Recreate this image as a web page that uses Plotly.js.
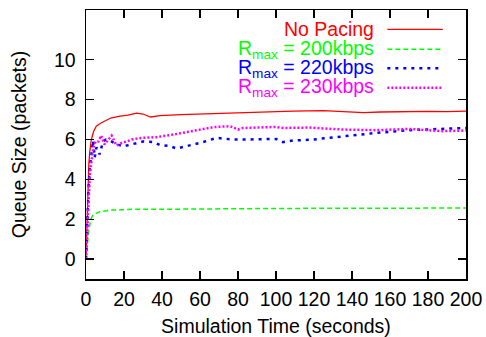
<!DOCTYPE html>
<html>
<head>
<meta charset="utf-8">
<script src="https://cdn.plot.ly/plotly-3.0.1.min.js"></script>
<style>html,body{margin:0;padding:0;background:#fff;}#chart{width:486px;height:337px;}</style>
</head>
<body>
<div id="chart"></div>
<script>
// Data
const seriesNames = ["No Pacing", "R<sub>max</sub> = 200kbps", "R<sub>max</sub> = 220kbps", "R<sub>max</sub> = 230kbps"];

const tNoPacing = [0, 0.3, 0.7, 1, 1.5, 2, 2.8, 4, 5.4, 7.9, 10, 13, 17.9, 22, 26.7, 30, 34, 39, 50, 60, 70, 81, 95, 109, 125, 135, 146, 155, 167, 180, 190, 200];
const qNoPacing = [0, 1.2, 2.8, 3.8, 4.8, 5.4, 6.0, 6.4, 6.67, 6.83, 6.95, 7.08, 7.17, 7.22, 7.32, 7.28, 7.13, 7.2, 7.25, 7.28, 7.33, 7.37, 7.4, 7.42, 7.45, 7.4, 7.35, 7.38, 7.4, 7.41, 7.4, 7.42];

const t200 = [0, 0.3, 0.7, 1, 1.5, 1.9, 2.5, 3.7, 5.6, 7.2, 10.9, 13.3, 20, 25.6, 40, 60, 81, 100, 130, 160, 200];
const q200 = [0, 0.4, 0.9, 1.2, 1.5, 1.67, 2.0, 2.22, 2.3, 2.37, 2.42, 2.46, 2.48, 2.5, 2.5, 2.52, 2.53, 2.54, 2.55, 2.55, 2.56];

const t220 = [0, 0.5, 1, 1.5, 2, 3, 3.7, 4.6, 5.5, 6.3, 7.2, 8.9, 10.5, 12.6, 15.3, 19.5, 25, 30, 35.5, 39, 44, 47.7, 53, 60, 68.8, 77.5, 84, 100, 103.7, 109, 119.5, 135, 152.6, 170, 188, 200];
const q220 = [0, 1.5, 2.8, 3.8, 4.5, 5.4, 5.95, 5.1, 5.6, 5.5, 5.25, 5.9, 6.0, 5.95, 5.8, 5.65, 5.8, 5.9, 5.87, 5.72, 5.67, 5.55, 5.67, 5.83, 6.08, 6.0, 6.0, 6.03, 5.87, 5.95, 6.0, 6.17, 6.33, 6.47, 6.53, 6.58];

const t230 = [0, 0.5, 1, 1.5, 2, 3, 4, 5, 6.5, 8, 9.8, 11, 13.5, 16, 18.8, 22, 24, 29, 37, 46, 56.5, 67, 75.8, 80, 82.6, 100, 104, 117.7, 135, 152.6, 170, 188, 200];
const q230 = [0, 1.2, 2.5, 3.3, 4.2, 5.0, 5.6, 5.9, 5.9, 6.2, 5.75, 5.9, 6.2, 5.7, 5.83, 5.92, 6.0, 6.08, 6.12, 6.25, 6.42, 6.62, 6.67, 6.5, 6.58, 6.63, 6.58, 6.6, 6.5, 6.47, 6.53, 6.42, 6.45];

const xTicks = [0, 20, 40, 60, 80, 100, 120, 140, 160, 180, 200];
const yTicks = [0, 2, 4, 6, 8, 10];

// Styles
const colors = ["#ff0000", "#00ff00", "#0000ff", "#ff00ff"];
const dashes = ["solid", "5px,3px", "3px,5px", "2px,2px"];
const widths = [1.3, 1.5, 2.5, 2.5];
const FONT = "'Liberation Sans', Arial, Helvetica, sans-serif";
const FS = 19.5;

const xs = [tNoPacing, t200, t220, t230];
const ys = [qNoPacing, q200, q220, q230];

const traces = xs.map((x, i) => ({
  x: x, y: ys[i], type: "scatter", mode: "lines", name: seriesNames[i],
  line: {color: colors[i], dash: dashes[i], width: widths[i]}, showlegend: false
}));

// gnuplot-style legend: right-justified text, sample line on the right
const legTextX = 0.7605, legLineX0 = 0.793, legLineX1 = 0.939;
const legRowsY = [0.928, 0.854, 0.783, 0.711];
const annotations = seriesNames.map((n, i) => ({
  xref: "paper", yref: "paper", x: legTextX, y: legRowsY[i],
  xanchor: "right", yanchor: "middle", align: "right", text: n, showarrow: false,
  borderpad: 0,
  font: {family: FONT, size: FS, color: colors[i]}
}));
const shapes = seriesNames.map((n, i) => ({
  type: "line", xref: "paper", yref: "paper",
  x0: legLineX0, x1: legLineX1, y0: legRowsY[i], y1: legRowsY[i],
  line: {color: colors[i], dash: dashes[i], width: widths[i]}
}));

const axisCommon = {
  showgrid: false, zeroline: false, showline: true, mirror: "ticks", automargin: false,
  linecolor: "#000", linewidth: 1.5, ticks: "inside", ticklen: 8, tickwidth: 1.2,
  tickcolor: "#000", tickfont: {family: FONT, size: FS, color: "#000"}
};

const layout = {
  width: 486, height: 337,
  margin: {l: 86, r: 20, t: 10, b: 58},
  paper_bgcolor: "#fff", plot_bgcolor: "#fff",
  font: {family: FONT, size: FS, color: "#000"},
  xaxis: Object.assign({}, axisCommon, {
    range: [0, 200], tickvals: xTicks, ticktext: xTicks.map(String), ticklabelstandoff: 2,
    title: {text: "Simulation Time (seconds)", font: {family: FONT, size: FS}, standoff: 14}
  }),
  yaxis: Object.assign({}, axisCommon, {
    range: [-1, 12.5], tickvals: yTicks, ticktext: yTicks.map(String), ticklabelstandoff: 5,
    title: {text: "Queue Size (packets)", font: {family: FONT, size: FS}, standoff: 22}
  }),
  annotations: annotations,
  shapes: shapes
};

Plotly.newPlot("chart", traces, layout, {displayModeBar: false, staticPlot: true});
</script>
</body>
</html>
